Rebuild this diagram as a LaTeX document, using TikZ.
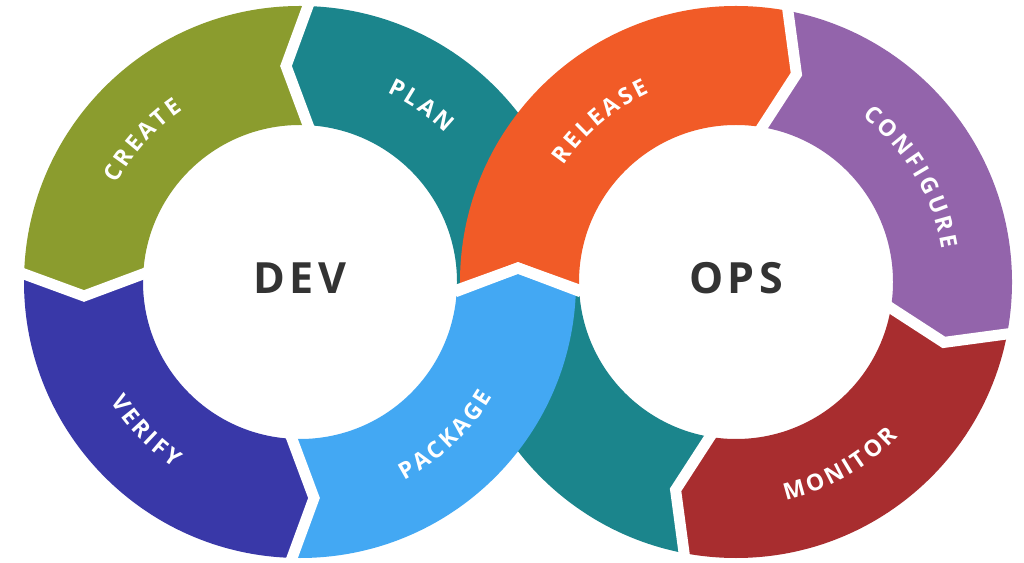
\documentclass[tikz,border=0pt]{standalone}
\usepackage{fontspec}
\setmainfont{Open Sans}
\newfontfamily\segfamily{Open Sans}
\newfontfamily\hubfamily{Open Sans}[LetterSpace=10]
\usetikzlibrary{decorations.text}

\definecolor{create}{HTML}{8B9C2E}
\definecolor{plan}{HTML}{1B858C}
\definecolor{verify}{HTML}{3938A8}
\definecolor{package}{HTML}{43A8F3}
\definecolor{release}{HTML}{F15B27}
\definecolor{configure}{HTML}{9364AB}
\definecolor{monitor}{HTML}{A82D2F}
\definecolor{hubtext}{HTML}{333333}

\newcommand\segfont{\segfamily\bfseries\fontsize{23}{28}\selectfont\fontdimen2\font=3pt\relax}

\tikzset{
  gap/.style={draw=white, line width=11pt, line join=miter, shorten <=-5pt, shorten >=-5pt},
  seglabel/.style={decorate, decoration={text along path, text align=center, text color=white}},
  hub/.style={font=\hubfamily\bfseries\fontsize{43}{50}\selectfont, text=hubtext, inner sep=0pt}
}

\begin{document}
\begin{tikzpicture}[x=1pt, y=1pt]
	\useasboundingbox (0,0) rectangle (1024,562);
	\fill[white] (0,0) rectangle (1024,562);
	\coordinate (dev) at (300,280);
	\coordinate (ops) at (736,280);
	\foreach \b/\c/\a/\s/\p in {dt/dev/90/1/216, dl/dev/180/1/216, db/dev/270/1/216, dx/dev/0/1/218, ot/ops/77.5/-1/216, or/ops/-12.5/-1/216, ob/ops/257.5/-1/216, ox/ops/180/-1/218}
	{
		\begin{scope}[shift={(\c)}, rotate=\a, yscale=\s]
			\coordinate (\b-i) at (157,-8);
			\coordinate (\b-t) at (\p,14);
			\coordinate (\b-o) at (276,-8);
			\coordinate (\b-f) at (560,-8);
		\end{scope}
	}
	\foreach \c/\ba/\bb/\m/\col in {dev/dx/dt/45/plan, ops/ob/ox/218/plan, dev/db/dx/315/package, ops/ox/ot/129/release, dev/dt/dl/135/create, dev/dl/db/225/verify, ops/ot/or/32.5/configure, ops/or/ob/-57.5/monitor}
	{
		\begin{scope}
			\clip (\c) -- (\ba-i) -- (\ba-t) -- (\ba-o) -- (\ba-f) -- ([shift={(\c)}]\m:560) -- (\bb-f) -- (\bb-o) -- (\bb-t) -- (\bb-i) -- cycle;
			\fill[\col, even odd rule] (\c) circle[radius=276] (\c) circle[radius=157];
		\end{scope}
	}
	\foreach \b in {dt, dl, db, dx, ox, ot, or, ob}
		\draw[gap] (\b-i) -- (\b-t) -- (\b-o);
	\foreach \c/\m/\s/\lbl in {dev/138/1/C R E A T E, dev/55.5/1/P L A N, dev/224/-1/V E R I F Y, dev/313.5/-1/P A C K A G E, ops/130.3/1/R E L E A S E, ops/31/1/C O N F I G U R E, ops/299.6/-1/M O N I T O R}
		\path[seglabel, decoration={text/.expanded={|\noexpand\segfont|\lbl}}] ([shift={(\c)}]{\m+\s*45}:{216-\s*8}) arc[start angle={\m+\s*45}, end angle={\m-\s*45}, radius={216-\s*8}];
	\node[hub] (devhub) at ([yshift=3.5]dev) {DEV};
	\node[hub] (opshub) at ([yshift=3.5]ops) {OPS};
\end{tikzpicture}
\end{document}
